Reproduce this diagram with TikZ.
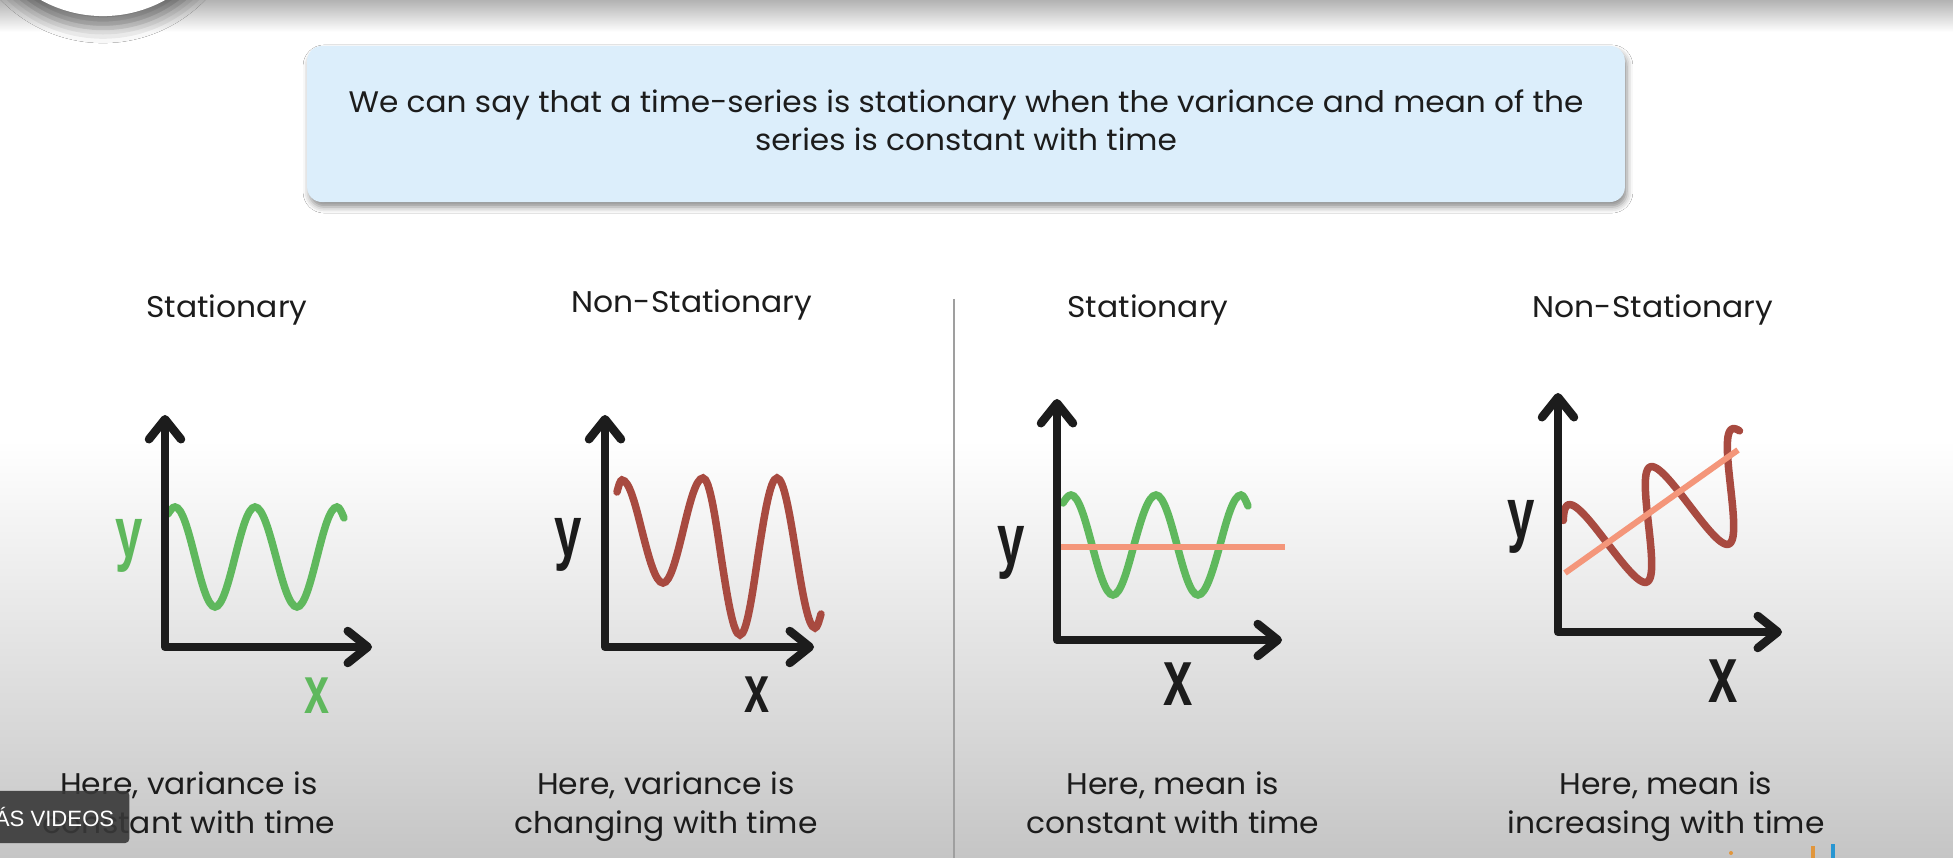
\documentclass[tikz,border=0pt]{standalone}
\usepackage{fontspec}
\usepackage{graphicx}
\setmainfont{Poppins}[FakeStretch=1.05]
\newfontfamily\labelfont{Liberation Sans}
\usetikzlibrary{arrows.meta, positioning, shadows.blur}
\definecolor{waveGreen}{RGB}{95, 184, 93}
\definecolor{waveRed}{RGB}{168, 74, 64}
\definecolor{meanOrange}{RGB}{244, 150, 122}
\definecolor{axisBlack}{RGB}{28, 28, 28}
\definecolor{noteBlue}{RGB}{220, 238, 251}
\definecolor{bgMid}{RGB}{214, 214, 214}
\definecolor{bgLow}{RGB}{197, 197, 197}
\definecolor{logoOrange}{RGB}{225, 150, 60}
\definecolor{logoBlue}{RGB}{40, 150, 210}
\tikzset{
    notebox/.style={rectangle, rounded corners=0.15cm, fill=noteBlue, minimum width=13.17cm, minimum height=1.56cm, align=center, text=axisBlack, font=\fontsize{8.45}{10.8}\selectfont, blur shadow={shadow xshift=0.02cm, shadow yshift=-0.05cm, shadow blur radius=0.06cm, shadow opacity=45}},
    heading/.style={text=axisBlack, font=\fontsize{8.5}{10}\selectfont},
    caption/.style={align=center, text=axisBlack, font=\fontsize{8.5}{11.1}\selectfont},
    axislbl/.style={inner sep=0pt, text=axisBlack, font=\labelfont\bfseries\fontsize{10}{10}\selectfont},
    axisline/.style={line width=0.085cm, draw=axisBlack, line join=round, >={Straight Barb[round, length=0.2cm, width=0.32cm]}, <->},
    wave/.style={line width=0.075cm, line cap=round},
    meanline/.style={line width=0.06cm, draw=meanOrange},
    videotag/.style={rectangle, rounded corners=0.04cm, fill=black!78, fill opacity=0.9, text opacity=1, text=white, minimum height=0.52cm, inner xsep=0.15cm, font=\labelfont\fontsize{6.3}{7}\selectfont}
}

\begin{document}
\begin{tikzpicture}[x=0.01cm, y=-0.01cm]
    \useasboundingbox (0,0) rectangle (1953,858);
    \fill[white] (0,0) rectangle (1953,858);
    \shade[top color=white, bottom color=bgMid] (0,440) rectangle (1953,740);
    \shade[top color=bgMid, bottom color=bgLow] (0,740) rectangle (1953,858);
    \shade[top color=gray!60, bottom color=white] (0,0) rectangle (1953,32);
    \fill[white, blur shadow={shadow xshift=0cm, shadow yshift=-0.12cm, shadow blur radius=0.15cm, shadow opacity=45}] (103,-112) circle (1.28cm);

    \node (note) [notebox] at (966,124) {We can say that a time-series is stationary when the variance and mean of the\strut\\series is constant with time\strut};

    \node (statA) [heading] at (227,310) {Stationary};
    \node (nonstatA) [heading] at (692,305) {Non-Stationary};
    \node (statB) [heading] at (1148,310) {Stationary};
    \node (nonstatB) [heading] at (1653,310) {Non-Stationary};

    \coordinate (divTop) at (954,299);
    \coordinate (divBot) at (954,858);
    \draw[gray!75, line width=0.015cm] (divTop) -- (divBot);

    \draw[wave, waveGreen] (168,514) sin (175,507) cos (195,557) sin (215,607) cos (235,557) sin (255,507) cos (276,557) sin (297,607) cos (317,557) sin (337,507) cos (344,518);
    \coordinate (yTipA) at (165,415);
    \coordinate (oA) at (165,647);
    \coordinate (xTipA) at (372,647);
    \draw[axisline] (yTipA) -- (oA) -- (xTipA);
    \node (yA) [axislbl, text=waveGreen] at (129,546) {\scalebox{1.4}[2.05]{y}};
    \node (xA) [axislbl, text=waveGreen] at (317,696) {\scalebox{1.28}[1.92]{x}};

    \draw[wave, waveRed] (617,492) sin (622,480) cos (642,531) sin (663,583) cos (683,531) sin (703,478) cos (721,556) sin (740,635) cos (758,556) sin (777,478) cos (796,553) sin (815,628) cos (821,614);
    \coordinate (yTipB) at (605,415);
    \coordinate (oB) at (605,647);
    \coordinate (xTipB) at (814,647);
    \draw[axisline] (yTipB) -- (oB) -- (xTipB);
    \node (yB) [axislbl] at (568,545) {\scalebox{1.4}[2.05]{y}};
    \node (xB) [axislbl] at (757,695) {\scalebox{1.28}[1.92]{x}};

    \draw[wave, waveGreen] (1063,503) sin (1071,495) cos (1092,545) sin (1113,595) cos (1134,545) sin (1156,495) cos (1177,545) sin (1198,595) cos (1220,545) sin (1241,495) cos (1248,506);
    \draw[meanline] (1057,547) -- (1285,547);
    \coordinate (yTipC) at (1057,399);
    \coordinate (oC) at (1057,640);
    \coordinate (xTipC) at (1282,640);
    \draw[axisline] (yTipC) -- (oC) -- (xTipC);
    \node (yC) [axislbl] at (1011,553) {\scalebox{1.4}[2.05]{y}};
    \node (xC) [axislbl] at (1178,684) {\scalebox{1.5}[2.3]{x}};

    \draw[wave, waveRed] plot[domain=-40:745, samples=150, smooth, variable=\t] ({1587+0.2278*\t-19*cos(\t)}, {553-0.10556*\t-48*cos(\t)});
    \draw[meanline] (1565,573) -- (1738,450);
    \coordinate (yTipD) at (1558,393);
    \coordinate (oD) at (1558,632);
    \coordinate (xTipD) at (1782,632);
    \draw[axisline] (yTipD) -- (oD) -- (xTipD);
    \node (yD) [axislbl] at (1521,527) {\scalebox{1.4}[2.05]{y}};
    \node (xD) [axislbl] at (1723,681) {\scalebox{1.5}[2.3]{x}};

    \node (capA) [caption] at (189,806) {Here, variance is\strut\\constant with time\strut};
    \node (capB) [caption] at (666,806) {Here, variance is\strut\\changing with time\strut};
    \node (capC) [caption] at (1173,806) {Here, mean is\strut\\constant with time\strut};
    \node (capD) [caption] at (1666,806) {Here, mean is\strut\\increasing with time\strut};

    \node (moreVideos) [videotag, anchor=east] at (130,817) {ÁS VIDEOS};

    \fill[logoOrange] (1731,853) circle (0.02cm);
    \fill[logoOrange] (1811,846) rectangle (1815,858);
    \fill[logoBlue] (1831,844) rectangle (1835,858);
\end{tikzpicture}
\end{document}
